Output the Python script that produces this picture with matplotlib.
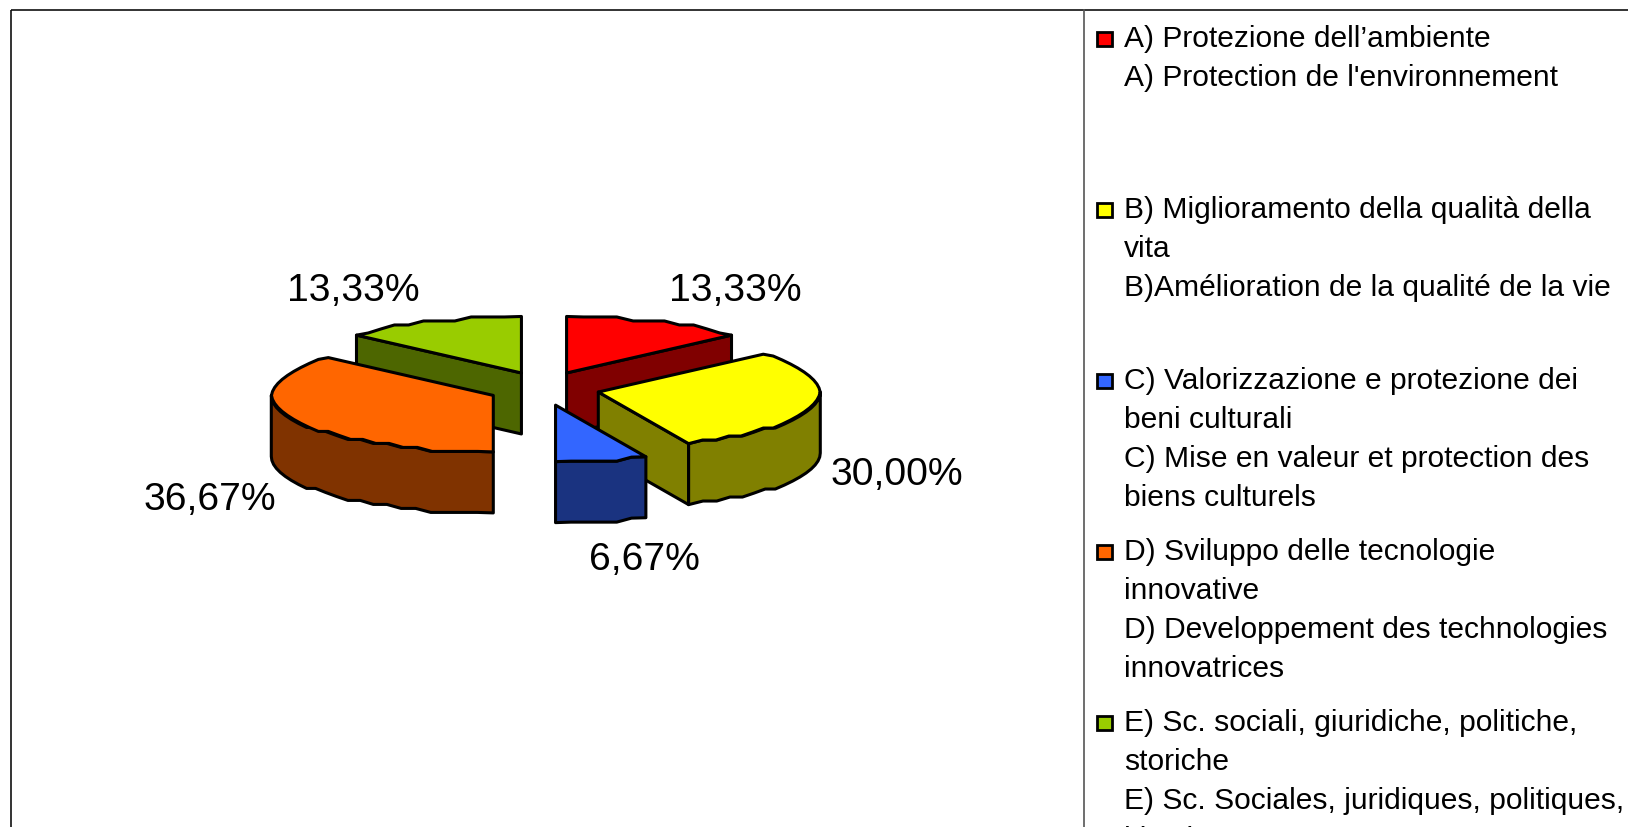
import numpy as np
import matplotlib
matplotlib.use("Agg")
import matplotlib.pyplot as plt
from matplotlib.patches import Polygon, Rectangle

plt.rcParams['font.family'] = ['Liberation Sans', 'DejaVu Sans']

# ---- data ----
categories = ["A", "B", "C", "D", "E"]
values = [13.33, 30.00, 6.67, 36.67, 13.33]
value_labels = ["13,33%", "30,00%", "6,67%", "36,67%", "13,33%"]
top_colors = ["#FF0000", "#FFFF00", "#3366FF", "#FF6600", "#99CC00"]
side_colors = ["#800000", "#808000", "#1A3380", "#803300", "#4D6600"]
legend_lines = [
    ["A) Protezione dell’ambiente", "A) Protection de l'environnement"],
    ["B) Miglioramento della qualità della", "vita", "B)Amélioration de la qualité de la vie"],
    ["C) Valorizzazione e protezione dei", "beni culturali",
     "C) Mise en valeur et protection des", "biens culturels"],
    ["D) Sviluppo delle tecnologie", "innovative",
     "D) Developpement des technologies", "innovatrices"],
    ["E) Sc. sociali, giuridiche, politiche,", "storiche",
     "E) Sc. Sociales, juridiques, politiques,", "histoire"],
]

# ---- layout (pixels) ----
W, H = 1628, 828
CX, CY = 544, 389.5
RX, RY = 222, 56.5
EX, EY = 55.5, 17
DEPTH = 61
STEP = 4
LW = 2.2
label_pos = {0: (735, 291), 1: (897, 475), 2: (644, 560), 3: (210, 500), 4: (353, 291)}

fig = plt.figure(figsize=(W / 100, H / 100), dpi=100, facecolor="white")
ax = fig.add_axes([0, 0, 1, 1])
ax.set_xlim(0, W)
ax.set_ylim(H, 0)
ax.axis("off")

ax.add_patch(Rectangle((11, 11), W + 50, H + 50, fill=False, ec="#111111", lw=1.2, zorder=1))
ax.plot([1084, 1084], [11, H + 5], color="#555555", lw=1.2, zorder=1)


def arc(cx, cy, a, b):
    t = np.radians(np.linspace(a, b, max(int(abs(b - a) / 4), 2) + 1))
    x = cx + RX * np.sin(t)
    y = cy + np.round(-RY * np.cos(t) / STEP) * STEP
    y[0] = cy - RY * np.cos(t[0])
    y[-1] = cy - RY * np.cos(t[-1])
    return np.column_stack([x, y])


def face(points, color, z):
    ax.add_patch(Polygon(points, closed=True, fc=color, ec="black", lw=LW,
                         joinstyle="round", zorder=z))


edges = np.concatenate([[0], np.cumsum(values)]) * 360 / sum(values)
wedges = []
for i, val in enumerate(values):
    a, b = edges[i], edges[i + 1]
    mid = np.radians((a + b) / 2)
    wedges.append((i, a, b, CX + EX * np.sin(mid), CY - EY * np.cos(mid)))

# painter's order: back wedges first, blue last
order = sorted(wedges, key=lambda w: w[4])
for z, (i, a, b, cx, cy) in enumerate(order):
    zb = 2 + z
    apex = np.array([cx, cy])
    if np.sin(np.radians(a)) < -1e-6:
        p = arc(cx, cy, a, a + 0.001)[0]
        face([apex, p, p + [0, DEPTH], apex + [0, DEPTH]], side_colors[i], zb)
    if np.sin(np.radians(b)) > 1e-6:
        p = arc(cx, cy, b - 0.001, b)[-1]
        face([apex, p, p + [0, DEPTH], apex + [0, DEPTH]], side_colors[i], zb)
    lo, hi = max(a, 90), min(b, 270)
    if hi > lo:
        r = arc(cx, cy, lo, hi)
        face(np.vstack([r, (r + [0, DEPTH])[::-1]]), side_colors[i], zb + 0.1)
    face(np.vstack([[apex], arc(cx, cy, a, b)]), top_colors[i], zb + 0.2)

for i, txt in enumerate(value_labels):
    x, y = label_pos[i]
    ax.text(x, y, txt, fontsize=28.2, ha="center", va="center", color="black", zorder=20)

# legend
for k, lines in enumerate(legend_lines):
    y0 = 38.5 + 171 * k
    ax.add_patch(Rectangle((1097, y0 - 6), 14.5, 14.5, fc=top_colors[k], ec="black", lw=2.0, zorder=20))
    for j, line in enumerate(lines):
        ax.text(1124, y0 + 0.5 + 39.1 * j, line, fontsize=21.6, ha="left", va="center", color="black", zorder=20)

fig.savefig("out.png", dpi=100, facecolor="white")
